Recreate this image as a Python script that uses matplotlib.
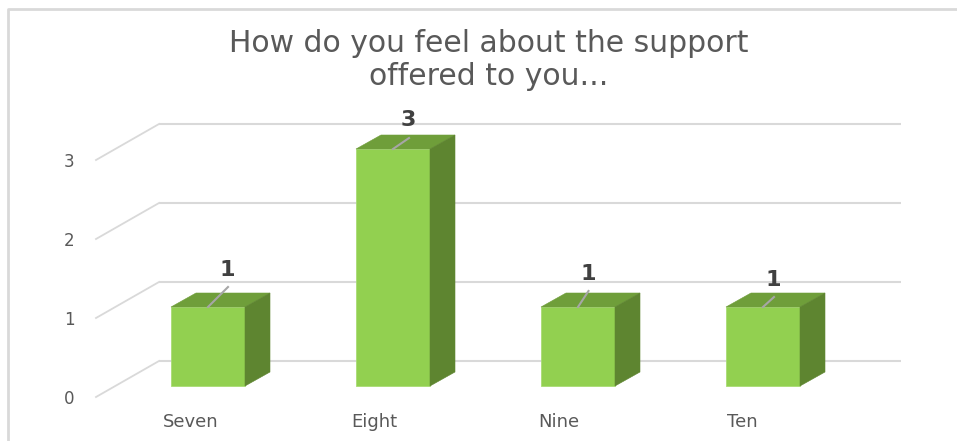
import matplotlib
matplotlib.use("Agg")
import matplotlib.pyplot as plt
from matplotlib.patches import Polygon

title = "How do you feel about the support\noffered to you..."
categories = ["Seven", "Eight", "Nine", "Ten"]
values = [1, 3, 1, 1]
y_ticks = [0, 1, 2, 3]

W, H = 957, 441
X0, UX = 208.0, 185.0     # pixel of first category, pixels per category
Y0, UY = 386.0, 79.0      # pixel of value 0, pixels per unit
BAR = 74 / UX
DX, DY = 25 / UX, 14 / UY # bar depth
FX, FY = 63 / UX, 36 / UY # floor depth
back_x0 = (159 - X0) / UX
back_x1 = (901 - X0) / UX
back_y0 = (386 - 361) / UY
front_x = (96 - X0) / UX

fig = plt.figure(figsize=(W / 100, H / 100), dpi=100, facecolor="white")
ax = fig.add_axes([0, 0, 1, 1])
ax.set_xlim(-X0 / UX, (W - X0) / UX)
ax.set_ylim((Y0 - H) / UY, Y0 / UY)
ax.axis("off")

GRID = "#d9d9d9"
TEXT = "#595959"
for v in y_ticks:
    y = back_y0 + v
    ax.plot([back_x0, back_x1], [y, y], color=GRID, lw=1.5, zorder=1, solid_capstyle="butt")
    ax.plot([front_x, back_x0], [y - FY, y], color=GRID, lw=1.3, zorder=1)
    ax.text(front_x - 27 / UX, y - FY - 2 / UY, str(v), ha="center", va="center",
            fontsize=12, color=TEXT, zorder=5)

xs = list(range(len(categories)))
ax.bar(xs, values, width=BAR, color="#92d050", edgecolor="#a9dc74", lw=0.6, zorder=3)
# pixel offsets of each data label and its leader line from the bar's top centre
label_off = [(19, 37), (15, 29), (10, 33), (10, 27)]
leader_off = [(20, 20), (16, 11), (10.5, 16), (11, 10)]
for x, v, (lx, ly), (ex, ey) in zip(xs, values, label_off, leader_off):
    l, r = x - BAR / 2, x + BAR / 2
    ax.add_patch(Polygon([(l, v), (r, v), (r + DX, v + DY), (l + DX, v + DY)],
                         fc="#6f9e3a", ec="#6f9e3a", lw=0.4, zorder=3))
    ax.add_patch(Polygon([(r, 0), (r + DX, DY), (r + DX, v + DY), (r, v)],
                         fc="#5e8530", ec="#5e8530", lw=0.4, zorder=3))
    ax.plot([x, x + ex / UX], [v, v + ey / UY], color="#a6a6a6", lw=1.5, zorder=4)
    ax.text(x + lx / UX, v + ly / UY, str(v), ha="center", va="center", fontsize=16,
            fontweight="bold", color="#404040", zorder=5)

label_px = [190.5, 374, 559, 742.5]
for px, c in zip(label_px, categories):
    ax.text((px - X0) / UX, (Y0 - 427) / UY, c, ha="center", va="baseline",
            fontsize=13, color=TEXT)

ax.text((489 - X0) / UX, (Y0 - 60) / UY, title, ha="center", va="center",
        fontsize=21.5, color=TEXT, linespacing=1.2)

# chart frame: left and top edges only
L, R, T = (8 - X0) / UX, (W - X0) / UX, (Y0 - 9) / UY
B = (Y0 - H) / UY
ax.plot([L, L, R], [B, T, T], color="#d9d9d9", lw=2.0, zorder=1)

fig.savefig("out.png", dpi=100)
